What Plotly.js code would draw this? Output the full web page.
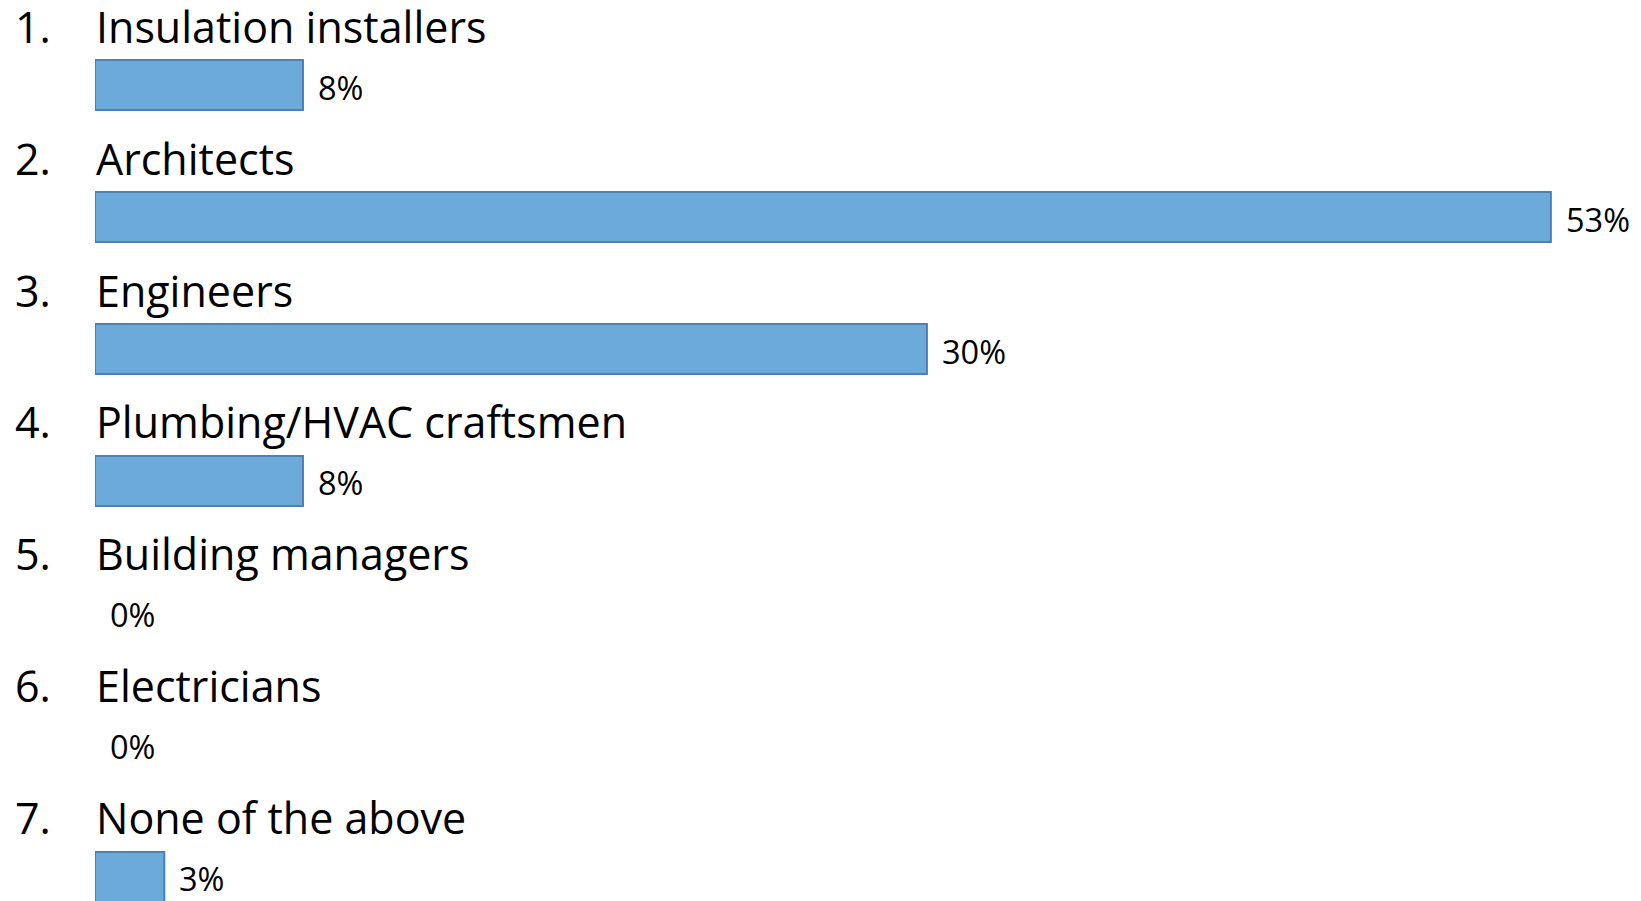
<!DOCTYPE html>
<html>
<head>
<meta charset="utf-8">
<script src="https://cdn.plot.ly/plotly-3.0.1.min.js"></script>
<style>
  html, body { margin: 0; padding: 0; background: #ffffff; }
  #chart { width: 1641px; height: 901px; }
</style>
</head>
<body>
<div id="chart"></div>
<script>
// Data
const numbers = ["1.", "2.", "3.", "4.", "5.", "6.", "7."];
const categories = [
  "Insulation installers",
  "Architects",
  "Engineers",
  "Plumbing/HVAC craftsmen",
  "Building managers",
  "Electricians",
  "None of the above"
];
const values = [7.5, 52.5, 30, 7.5, 0, 0, 2.5];
const valueLabels = ["8%", "53%", "30%", "8%", "0%", "0%", "3%"];

const fontFamily = "'Open Sans', Lato, sans-serif";

const trace = {
  type: "bar",
  orientation: "h",
  x: values,
  y: categories,
  width: 0.379,
  marker: {
    color: "rgb(108,170,220)",
    line: { color: "rgb(78,128,178)", width: values.map(v => (v > 0 ? 2 : 0)) }
  },
  hoverinfo: "skip"
};

const annotations = [];
categories.forEach((c, i) => {
  annotations.push({
    xref: "x", yref: "y", x: 0, y: c,
    text: numbers[i], showarrow: false,
    xanchor: "left", yanchor: "middle",
    borderpad: 0, borderwidth: 0,
    xshift: -80, yshift: 59,
    font: { family: fontFamily, size: 43, color: "#000000" }
  });
  annotations.push({
    xref: "x", yref: "y", x: 0, y: c,
    text: c, showarrow: false,
    xanchor: "left", yanchor: "middle",
    borderpad: 0, borderwidth: 0,
    xshift: 1, yshift: 59,
    font: { family: fontFamily, size: 43, color: "#000000" }
  });
  annotations.push({
    xref: "x", yref: "y", x: values[i], y: c,
    text: valueLabels[i], showarrow: false,
    xanchor: "left", yanchor: "middle",
    borderpad: 0, borderwidth: 0,
    xshift: 15, yshift: -2,
    font: { family: fontFamily, size: 32.5, color: "#000000" }
  });
});

const layout = {
  width: 1641,
  height: 901,
  margin: { l: 95, r: 0, t: 0, b: 0, pad: 0 },
  paper_bgcolor: "#ffffff",
  plot_bgcolor: "#ffffff",
  showlegend: false,
  xaxis: {
    range: [0, 55.75],
    showgrid: false, zeroline: false, showline: false,
    showticklabels: false, ticks: "", fixedrange: true
  },
  yaxis: {
    type: "category",
    categoryorder: "array",
    categoryarray: categories,
    range: [6.182, -0.644],
    autorange: false,
    showgrid: false, zeroline: false, showline: false,
    showticklabels: false, ticks: "", fixedrange: true
  },
  annotations: annotations
};

Plotly.newPlot("chart", [trace], layout, { displayModeBar: false, staticPlot: true });
</script>
</body>
</html>
